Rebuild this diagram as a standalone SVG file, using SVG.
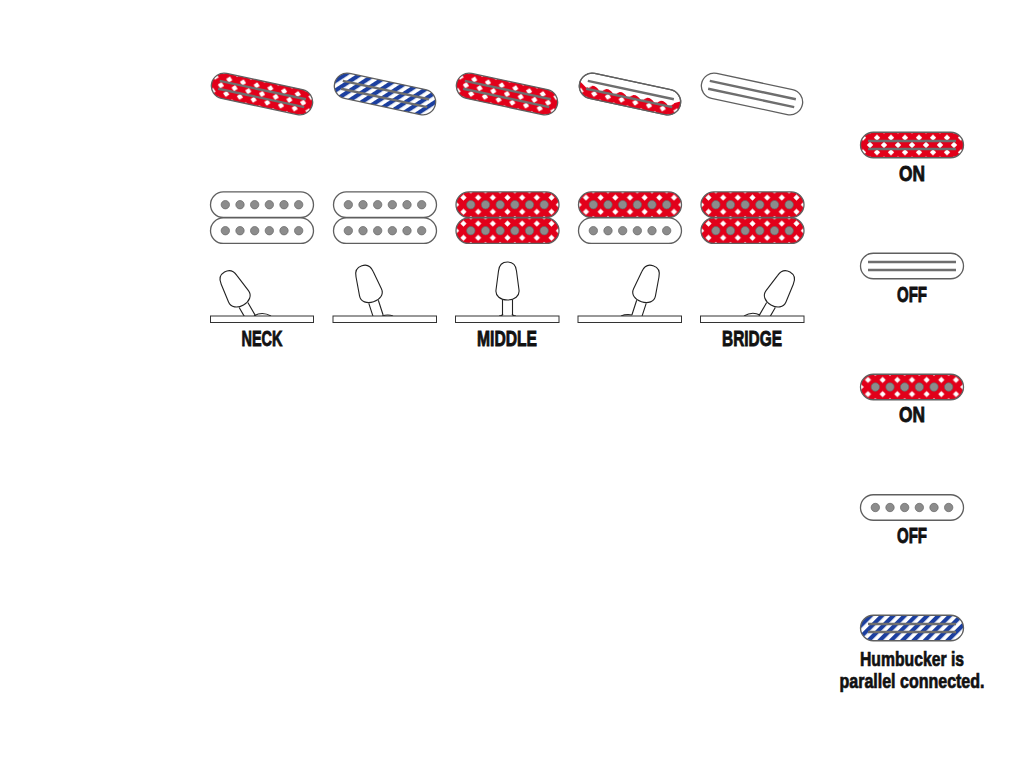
<svg xmlns="http://www.w3.org/2000/svg" xmlns:xlink="http://www.w3.org/1999/xlink" width="1024" height="768" viewBox="0 0 1024 768">
<style>
.o{fill:none;stroke:#5f5f5f;stroke-width:1.3}
.w{fill:#fff;stroke:#5f5f5f;stroke-width:1.3}
.rail{stroke:#6e6e6e;stroke-width:2.4;fill:none}
.pole{fill:#8c8c8c;stroke:#666;stroke-width:.7}
.t{stroke:#222;stroke-width:1.1;fill:none}
.k{fill:#fff;stroke:#222;stroke-width:1.1}
.p{fill:#fff;stroke:#333;stroke-width:1}
text{font-family:"Liberation Sans",Arial,sans-serif;font-weight:700;fill:#111;stroke:#111;stroke-width:.9;text-anchor:middle;font-size:22.500px}
.s{font-size:20px;stroke-width:.7}
</style>
<defs>
<pattern id="red" width="14" height="14.6" patternUnits="userSpaceOnUse">
<rect width="14" height="14.6" fill="#e2001a"/>
<path d="M0-3.200L3.200 0 0 3.200-3.200 0ZM14-3.200L17.200 0 14 3.200 10.800 0ZM0 11.400L3.200 14.600 0 17.800-3.200 14.600ZM14 11.400L17.200 14.600 14 17.800 10.800 14.600ZM7 4.100L10.200 7.300 7 10.500 3.800 7.300Z" fill="#fff"/>
</pattern>
<pattern id="redp" width="14.67" height="14.2" patternUnits="userSpaceOnUse" x="7.33" y="0">
<rect width="14.67" height="14.2" fill="#e2001a"/>
<path d="M0-3.100L3.100 0 0 3.100-3.100 0ZM14.670-3.100L17.770 0 14.670 3.100 11.570 0ZM0 11.100L3.100 14.200 0 17.300-3.100 14.200ZM14.670 11.100L17.770 14.200 14.670 17.300 11.570 14.200ZM7.330 4L10.430 7.100 7.330 10.200 4.230 7.100Z" fill="#fff"/>
</pattern>
<pattern id="blue" width="8" height="8" patternUnits="userSpaceOnUse" patternTransform="rotate(45)">
<rect width="8" height="8" fill="#fff"/>
<rect width="4.200" height="8" fill="#1c3f9f"/>
</pattern>
<clipPath id="pc"><rect x="-51.5" y="-12.75" width="103" height="25.5" rx="12.75"/></clipPath>
<g id="pill"><rect class="w" x="-51.5" y="-12.75" width="103" height="25.5" rx="12.75"/></g>
<g id="rails"><path class="rail" d="M-44-4H44M-44 4H44"/></g>
<g id="poles">
<circle class="pole" cx="-36.67" r="4.200"/><circle class="pole" cx="-22" r="4.200"/><circle class="pole" cx="-7.33" r="4.200"/><circle class="pole" cx="7.33" r="4.200"/><circle class="pole" cx="22" r="4.200"/><circle class="pole" cx="36.67" r="4.200"/>
</g>
<g id="railOn"><rect x="-51.5" y="-12.75" width="103" height="25.5" rx="12.75" fill="url(#red)"/><rect class="o" x="-51.5" y="-12.75" width="103" height="25.5" rx="12.75"/><use xlink:href="#rails"/></g>
<g id="railOff"><use xlink:href="#pill"/><use xlink:href="#rails"/></g>
<g id="railBlue"><rect x="-51.5" y="-12.75" width="103" height="25.5" rx="12.75" fill="url(#blue)"/><rect class="o" x="-51.5" y="-12.75" width="103" height="25.5" rx="12.75"/><use xlink:href="#rails"/></g>
<g id="poleOn"><rect x="-51.5" y="-12.75" width="103" height="25.5" rx="12.75" fill="url(#redp)"/><rect class="o" x="-51.5" y="-12.75" width="103" height="25.5" rx="12.75"/><use xlink:href="#poles"/></g>
<g id="poleOff"><use xlink:href="#pill"/><use xlink:href="#poles"/></g>
<g id="lever">
<path class="t" d="M-5-37V-21.500M5-37V-21.500"/>
<path class="k" d="M0-75C6-75 8.500-71 9-66L11.500-47C12.300-41 7-37 0-37C-7-37-12.300-41-11.500-47L-9-66C-8.500-71-6-75 0-75Z"/>
</g>
</defs>
<rect width="1024" height="768" fill="#fff"/>

<g id="top-neck"><use xlink:href="#railOn" transform="translate(262,94) rotate(12)"/></g>
<g id="top-neck-middle"><use xlink:href="#railBlue" transform="translate(385,94) rotate(12)"/></g>
<g id="top-middle"><use xlink:href="#railOn" transform="translate(507,94) rotate(12)"/></g>
<g id="top-middle-bridge" transform="translate(630,94) rotate(12)">
<use xlink:href="#pill"/>
<g clip-path="url(#pc)"><path fill="url(#red)" d="M-53-3L-44 3Q-37-4-30 4Q-23-4-16 4Q-9-4-2 4Q5-4 12 4Q19-4 26 4Q33-4 40 4Q46-2 53-4V14H-53Z"/></g>
<rect class="o" x="-51.5" y="-12.75" width="103" height="25.5" rx="12.75"/>
<use xlink:href="#rails"/>
</g>
<g id="top-bridge"><use xlink:href="#railOff" transform="translate(752,94) rotate(12)"/></g>

<g id="hum-neck"><use xlink:href="#poleOff" transform="translate(262,204.700)"/><use xlink:href="#poleOff" transform="translate(262,230.700)"/></g>
<g id="hum-neck-middle"><use xlink:href="#poleOff" transform="translate(385,204.700)"/><use xlink:href="#poleOff" transform="translate(385,230.700)"/></g>
<g id="hum-middle"><use xlink:href="#poleOn" transform="translate(507.500,204.700)"/><use xlink:href="#poleOn" transform="translate(507.500,230.700)"/></g>
<g id="hum-middle-bridge"><use xlink:href="#poleOn" transform="translate(630,204.700)"/><use xlink:href="#poleOff" transform="translate(630,230.700)"/></g>
<g id="hum-bridge"><use xlink:href="#poleOn" transform="translate(752.500,204.700)"/><use xlink:href="#poleOn" transform="translate(752.500,230.700)"/></g>

<g id="switch-neck">
<use xlink:href="#lever" transform="translate(262,337) rotate(-30)"/>
<path class="t" d="M254 316Q262 311 271 316"/>
<rect class="p" x="210.500" y="316" width="103" height="6.500"/>
<text x="262" y="346" textLength="41" lengthAdjust="spacingAndGlyphs">NECK</text>
</g>
<g id="switch-neck-middle">
<use xlink:href="#lever" transform="translate(385,337) rotate(-18)"/>
<path class="t" d="M382 316Q388 314 393 316"/>
<rect class="p" x="333" y="316" width="103.500" height="6.500"/>
</g>
<g id="switch-middle">
<use xlink:href="#lever" transform="translate(507.500,337)"/>
<path class="t" d="M499 316Q502 316 503 314M516 316Q513 316 512 314"/>
<rect class="p" x="455.500" y="316" width="103.500" height="6.500"/>
<text x="507" y="346" textLength="60" lengthAdjust="spacingAndGlyphs">MIDDLE</text>
</g>
<g id="switch-middle-bridge">
<use xlink:href="#lever" transform="translate(630,337) rotate(18)"/>
<path class="t" d="M621 316Q626 314 632 315"/>
<rect class="p" x="578" y="316" width="103.500" height="6.500"/>
</g>
<g id="switch-bridge">
<use xlink:href="#lever" transform="translate(752.500,337) rotate(30)"/>
<path class="t" d="M744 316Q752 311 760 315"/>
<rect class="p" x="700.500" y="316" width="103.500" height="6.500"/>
<text x="752" y="346" textLength="60" lengthAdjust="spacingAndGlyphs">BRIDGE</text>
</g>

<g id="legend-rail-on"><use xlink:href="#railOn" transform="translate(912,145)"/><text x="912" y="181" textLength="26" lengthAdjust="spacingAndGlyphs">ON</text></g>
<g id="legend-rail-off"><use xlink:href="#railOff" transform="translate(912,266)"/><text x="912" y="302" textLength="30" lengthAdjust="spacingAndGlyphs">OFF</text></g>
<g id="legend-pole-on"><use xlink:href="#poleOn" transform="translate(912,387)"/><text x="912" y="422" textLength="26" lengthAdjust="spacingAndGlyphs">ON</text></g>
<g id="legend-pole-off"><use xlink:href="#poleOff" transform="translate(912,507.500)"/><text x="912" y="543" textLength="30" lengthAdjust="spacingAndGlyphs">OFF</text></g>
<g id="legend-parallel"><use xlink:href="#railBlue" transform="translate(912,628)"/>
<text class="s" x="912" y="666" textLength="104" lengthAdjust="spacingAndGlyphs">Humbucker is</text>
<text class="s" x="912" y="688" textLength="145" lengthAdjust="spacingAndGlyphs">parallel connected.</text></g>
</svg>
